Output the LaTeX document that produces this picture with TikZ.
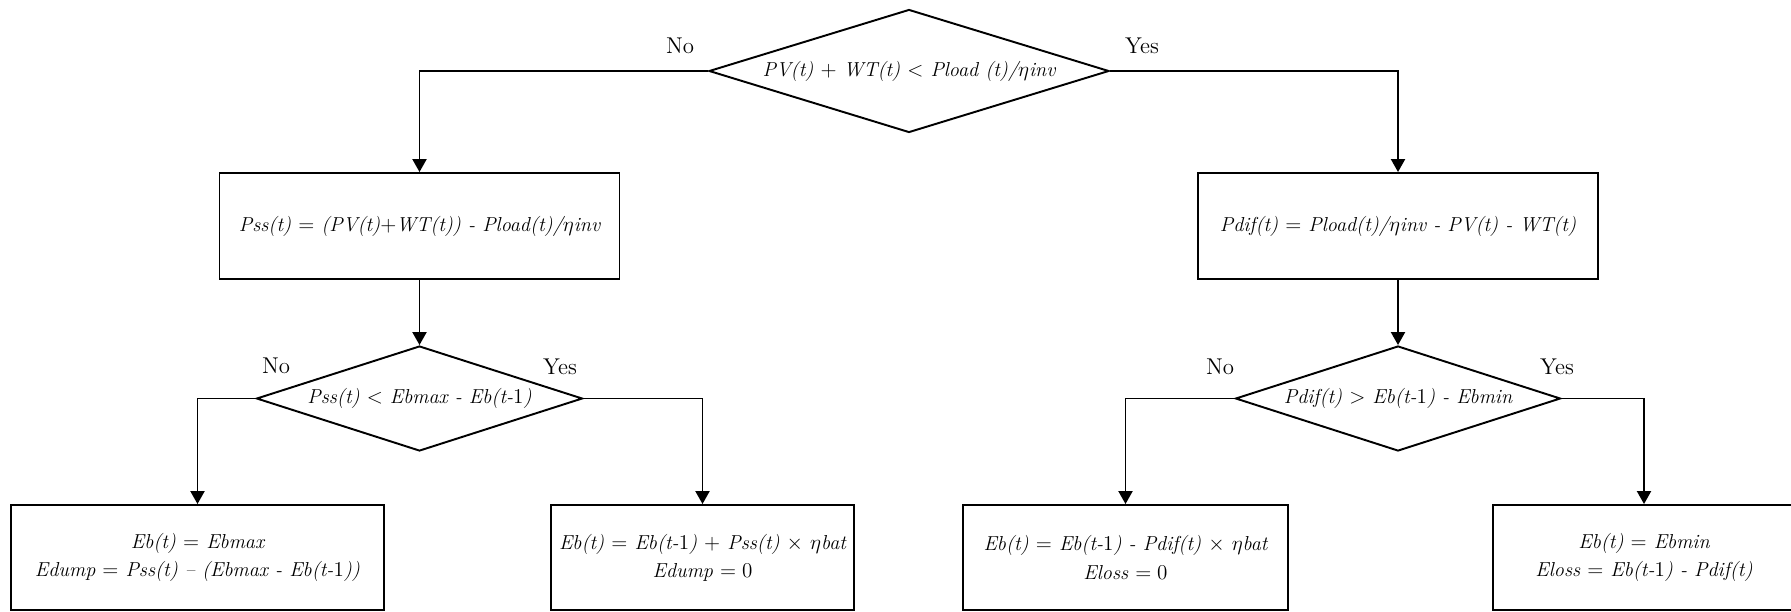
\documentclass[tikz,border=0pt]{standalone}
\usepackage{amsmath,amssymb}
\usetikzlibrary{shapes.geometric,arrows.meta}

\begin{document}
\begin{tikzpicture}[x=0.2mm,y=-0.2mm,
    procbox/.style={draw,line width=1.1pt,inner sep=0pt,align=center,
      font=\fontsize{11.5}{16}\selectfont\itshape},
    decision/.style={draw,diamond,line width=1.1pt,inner sep=0pt,
      font=\fontsize{11.5}{13}\selectfont\itshape},
    answer/.style={font=\fontsize{13}{15}\selectfont},
    flowline/.style={line width=1.1pt,-{Triangle[length=7.4pt,width=8pt]}}]
    \useasboundingbox (0,0) rectangle (1791,611);
    \node[decision,minimum width=80mm,minimum height=24.6mm,aspect=3.25] (d0) at (909,71)
      {PV(t) $+$ WT(t) $<$ Pload (t)/$\eta$inv};
    \node[procbox,minimum width=80mm,minimum height=21.2mm] (b1) at (419.5,226)
      {Pss(t) $=$ (PV(t)$+$WT(t)) - Pload(t)/$\eta$inv};
    \node[procbox,minimum width=80mm,minimum height=21.2mm] (b2) at (1398,226)
      {Pdif(t) $=$ Pload(t)/$\eta$inv - PV(t) - WT(t)};
    \node[decision,minimum width=65.2mm,minimum height=21mm,aspect=3.1] (d1) at (419.5,398.5)
      {Pss(t) $<$ Ebmax - Eb(t-$1$)};
    \node[decision,minimum width=65mm,minimum height=21mm,aspect=3.1] (d2) at (1398,398.5)
      {Pdif(t) $>$ Eb(t-$1$) - Ebmin};
    \foreach \name/\x/\w/\txt in {
      e1/197.5/74.6/{Eb(t) $=$ Ebmax\\Edump $=$ Pss(t) -- (Ebmax - Eb(t-$1$))},
      e2/702.5/60.6/{Eb(t) $=$ Eb(t-$1$) $+$ Pss(t) $\times$ $\eta$bat\\Edump $= 0$},
      e3/1125.5/65/{Eb(t) $=$ Eb(t-$1$) - Pdif(t) $\times$ $\eta$bat\\Eloss $= 0$},
      e4/1644/60.4/{Eb(t) $=$ Ebmin\\Eloss $=$ Eb(t-$1$) - Pdif(t)}} {
      \node[procbox,minimum width=\w mm,minimum height=21mm] (\name) at (\x,557.5) {\txt};
    }
    \foreach \name/\x/\y/\txt in {
      no0/680/46/No, yes0/1142/46/Yes,
      no1/276/366/No, yes1/560/367/Yes,
      no2/1220/367/No, yes2/1557/367/Yes} {
      \node[answer] (\name) at (\x,\y) {\txt};
    }
    \draw[flowline] (d0.west) -| (b1.north);
    \draw[flowline] (d0.east) -| (b2.north);
    \draw[flowline] (b1.south) -- (d1.north);
    \draw[flowline] (b2.south) -- (d2.north);
    \draw[flowline] (d1.west) -| (e1.north);
    \draw[flowline] (d1.east) -| (e2.north);
    \draw[flowline] (d2.west) -| (e3.north);
    \draw[flowline] (d2.east) -| (e4.north);
  \end{tikzpicture}
\end{document}
